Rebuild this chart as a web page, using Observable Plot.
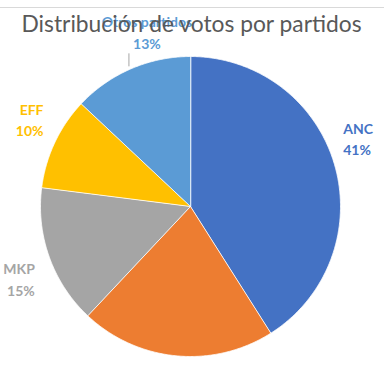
<!DOCTYPE html>
<html>
<head>
<meta charset="utf-8">
<script src="https://cdn.jsdelivr.net/npm/d3@7"></script>
<script src="https://cdn.jsdelivr.net/npm/@observablehq/plot@0.6"></script>
<style>
  html, body { margin: 0; padding: 0; background: #fff; }
  #wrap { position: relative; width: 384px; height: 377px; }
  #topline { position: absolute; left: 0; top: 7px; width: 384px; height: 1px; background: #d9d9d9; }
</style>
</head>
<body>
<div id="wrap"><div id="topline"></div></div>
<script>
const title = "Distribución de votos por partidos";
const parties = ["ANC", "DA", "MKP", "EFF", "Otros partidos"];
const shares = [41, 21, 15, 10, 13];
const colors = ["#4472C4", "#ED7D31", "#A5A5A5", "#FFC000", "#5B9BD5"];
const showLabel = [true, false, true, true, true];
const movedLabel = [false, false, false, false, true];

const R = 150;       // pie radius (data units = px)
const RL = 158;      // label anchor radius

const total = d3.sum(shares);
let cum = 0;
const slices = parties.map((p, i) => {
  const a0 = cum / total * 2 * Math.PI;
  cum += shares[i];
  const a1 = cum / total * 2 * Math.PI;
  return {party: p, share: shares[i], a0, a1, mid: (a0 + a1) / 2, show: showLabel[i], moved: movedLabel[i]};
});

// polygon outline for each slice (center + arc)
const pts = [];
for (const s of slices) {
  pts.push({party: s.party, x: 0, y: 0});
  const n = Math.max(2, Math.ceil((s.a1 - s.a0) / (Math.PI / 360)));
  for (let k = 0; k <= n; k++) {
    const a = s.a0 + (s.a1 - s.a0) * k / n;
    pts.push({party: s.party, x: R * Math.sin(a), y: R * Math.cos(a)});
  }
}

const labels = slices.filter(s => s.show).map(s => ({
  party: s.party,
  moved: s.moved,
  sx: Math.sin(s.mid), cy: Math.cos(s.mid),
  x: RL * Math.sin(s.mid),
  y: RL * Math.cos(s.mid),
  ex: R * Math.sin(s.mid),
  ey: R * Math.cos(s.mid),
  text: `${s.party}\n${s.share}%`
}));
const normal = labels.filter(d => !d.moved);
const moved = labels.filter(d => d.moved);
const quad = (sx, cy) => normal.filter(d => (d.sx > 0) === sx && (d.cy > 0) === cy);

const textOpts = {x: "x", y: "y", text: "text", fill: "party", fontWeight: "bold", fontSize: 14, lineHeight: 1.55};

const chart = Plot.plot({
  width: 384,
  height: 377,
  margin: 0,
  style: {background: "transparent", fontFamily: "Lato, 'Open Sans', sans-serif"},
  x: {domain: [-190, 194], range: [0, 384], axis: null},
  y: {domain: [-171, 206], range: [377, 0], axis: null},
  color: {domain: parties, range: colors},
  marks: [
    Plot.line(pts, {x: "x", y: "y", z: "party", fill: "party", stroke: "white", strokeWidth: 0.8, curve: "linear-closed"}),
    Plot.text(quad(true, true), {...textOpts, textAnchor: "start", lineAnchor: "bottom", dx: 1, dy: -7}),
    Plot.text(quad(true, false), {...textOpts, textAnchor: "start", lineAnchor: "top", dx: 2, dy: 2}),
    Plot.text(quad(false, true), {...textOpts, textAnchor: "end", lineAnchor: "bottom", dx: -4, dy: -3}),
    Plot.text(quad(false, false), {...textOpts, textAnchor: "end", lineAnchor: "top", dx: -7, dy: -1}),
    Plot.ruleX(moved, {x: d => d.ex - 2, y1: d => d.ey + 2, y2: d => d.ey + 15, stroke: "#a6a6a6", strokeWidth: 1}),
    Plot.text(moved, {...textOpts, x: d => d.ex + 16, y: d => d.ey + 20, textAnchor: "middle", lineAnchor: "bottom"}),
    Plot.text([title], {frameAnchor: "top", text: d => d, dy: 24, dx: -1, lineAnchor: "middle", fontSize: 22.8, fill: "#595959"})
  ]
});
chart.style.position = "absolute";
chart.style.left = "0";
chart.style.top = "0";
document.getElementById("wrap").appendChild(chart);
</script>
</body>
</html>
